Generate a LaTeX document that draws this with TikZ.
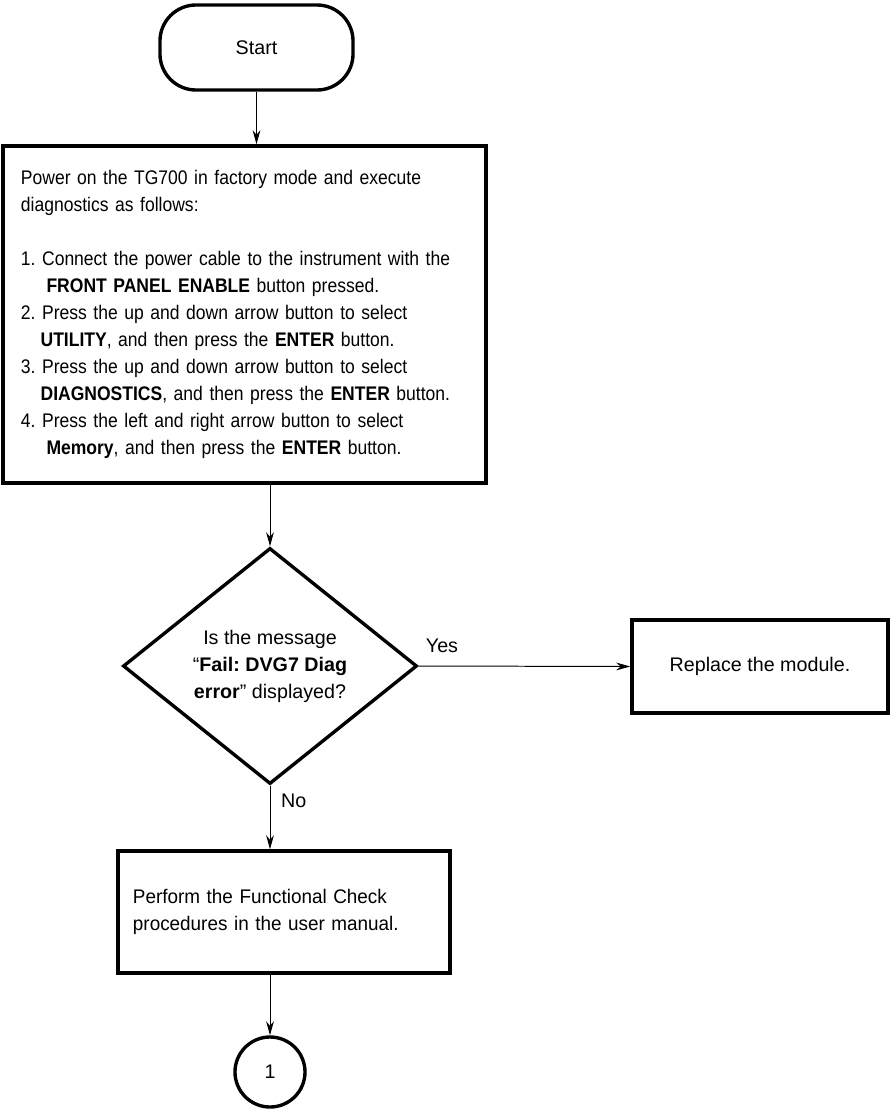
\documentclass[tikz,border=0pt]{standalone}
\usepackage{fontspec}
\setmainfont{Liberation Sans}
\newfontfamily\narrowfont{Liberation Sans}[FakeStretch=0.89]
\newfontfamily\semifont{Liberation Sans}[FakeStretch=0.96]
\usetikzlibrary{shapes.geometric,arrows.meta}
\frenchspacing

\begin{document}
\begin{tikzpicture}[
    x=0.025cm, y=-0.025cm,
    box/.style={draw, line width=2.4pt, fill=white, inner sep=0pt},
    arr/.style={-{Stealth[length=10pt,width=5.5pt]}, line width=0.7pt},
    every node/.style={font=\fontsize{14}{19.2}\selectfont}
]
    \useasboundingbox (0,0) rectangle (890,1110);

    \node[box, rounded corners=0.9cm, minimum width=4.825cm, minimum height=2.125cm] (start) at (256.5,47.5) {Start};
    \node[box, text width=11.175cm, inner xsep=0.45cm, minimum height=8.425cm, align=left, font=\fontsize{14}{19.2}\narrowfont] (main) at (244.5,314.5) {Power on the TG700 in factory mode and execute\\diagnostics as follows:\\[19.2pt]1. Connect the power cable to the instrument with the\\\hspace*{1.3em}\textbf{FRONT PANEL ENABLE} button pressed.\\2. Press the up and down arrow button to select\\\hspace*{1.0em}\textbf{UTILITY}, and then press the \textbf{ENTER} button.\\3. Press the up and down arrow button to select\\\hspace*{1.0em}\textbf{DIAGNOSTICS}, and then press the \textbf{ENTER} button.\\4. Press the left and right arrow button to select\\\hspace*{1.3em}\textbf{Memory}, and then press the \textbf{ENTER} button.};
    \node[box, diamond, aspect=1.25, minimum width=7.35cm, minimum height=5.9cm, align=center] (dec) at (270,666) {Is the message\\“\textbf{Fail: DVG7 Diag}\\\textbf{error}” displayed?};
    \node[box, minimum width=6.4cm, minimum height=2.325cm] (repl) at (760,666.5) {Replace the module.};
    \node[box, text width=7.55cm, inner xsep=0.375cm, minimum height=3.05cm, align=left, font=\fontsize{14}{19.2}\semifont] (chk) at (284,912) {Perform the Functional Check\\procedures in the user manual.};
    \node[box, circle, minimum size=1.75cm] (conn) at (270,1072) {1};

    \draw[arr] (start) -- (start |- main.north);
    \draw[arr] (dec |- main.south) -- (dec.north);
    \draw[arr] (dec.east) -- node[above=0.2cm, pos=0.11] {Yes} (repl.west);
    \draw[arr] (dec.south) -- node[right=0.15cm, pos=0.24] {No} (dec |- chk.north);
    \draw[arr] (conn |- chk.south) -- (conn.north);
\end{tikzpicture}
\end{document}
